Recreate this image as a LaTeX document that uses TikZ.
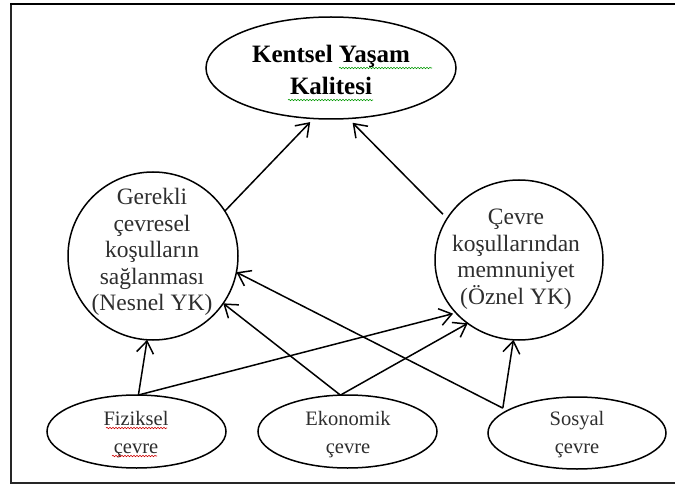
\documentclass[tikz,border=0pt]{standalone}
\usepackage{fontspec}
\setmainfont{Liberation Serif}
\usetikzlibrary{shapes.geometric,arrows.meta,decorations.pathmorphing}
\begin{document}
\begin{tikzpicture}[x=1pt,y=-1pt,
  shp/.style={draw, ellipse, line width=1.5pt, inner sep=0pt, outer sep=0pt},
  txt/.style={align=center, inner sep=0pt, text=black!82},
  midtxt/.style={txt, font=\fontsize{23.5}{26.5}\selectfont},
  lowtxt/.style={txt, font=\fontsize{20.5}{28}\selectfont},
  squig/.style={line width=0.6pt, decorate, decoration={snake, segment length=3pt, amplitude=0.7pt}},
  arr/.style={line width=1.5pt, -{Straight Barb[length=12pt,width=17pt]}}]
\useasboundingbox (0,0) rectangle (675,484);
% frame
\draw[line width=2pt, black!85] (11,3) -- (11,483) -- (675,483);
\draw[line width=2.8pt] (10,4) -- (675,4);
% nodes
\node[shp, minimum width=250pt, minimum height=102pt] (kyk) at (331,68) {};
\node[txt, text=black, font=\fontsize{25}{32}\selectfont\bfseries] (kykt) at (331,70) {Kentsel Yaşam\\Kalitesi};
\node[shp, minimum width=170pt, minimum height=168pt] (nes) at (153,256) {};
\node[midtxt] (nest) at (152,252) {Gerekli\\çevresel\\koşulların\\sağlanması\\(Nesnel YK)};
\node[shp, minimum width=168pt, minimum height=160pt] (ozn) at (519,260) {};
\node[midtxt] (oznt) at (516,259) {Çevre\\koşullarından\\memnuniyet\\(Öznel YK)};
\node[shp, minimum width=179pt, minimum height=73pt] (fiz) at (136.5,431.5) {};
\node[lowtxt] (fizt) at (136,435) {Fiziksel\\çevre};
\node[shp, minimum width=179pt, minimum height=73pt] (eko) at (347.5,431.5) {};
\node[lowtxt] (ekot) at (348,435) {Ekonomik\\çevre};
\node[shp, minimum width=178pt, minimum height=72pt] (sos) at (577,433) {};
\node[lowtxt] (sost) at (577,435) {Sosyal\\çevre};
% spell-check underlines
\draw[squig, green!60!black] (339,68) -- (432,68);
\draw[squig, green!60!black] (288,100) -- (373,100);
\draw[squig, red!80!black] (106,428) -- (167,428);
\draw[squig, red!80!black] (112,456) -- (157,456);
% connectors
\draw[arr, shorten >=5pt] (nes.32) -- (kyk.-109);
\draw[arr, shorten >=6pt, shorten <=6pt] (ozn.150) -- (kyk.-71);
\draw[arr] (fiz.87) -- (nes.-94);
\draw[arr, shorten >=3pt] (fiz.87) -- (ozn.-140);
\draw[arr] (eko.101) -- (nes.-34);
\draw[arr] (eko.101) -- (ozn.-129);
\draw[arr] ([yshift=5pt]sos.165) -- (nes.-11);
\draw[arr] ([yshift=5pt]sos.165) -- (ozn.-94);
\end{tikzpicture}
\end{document}
